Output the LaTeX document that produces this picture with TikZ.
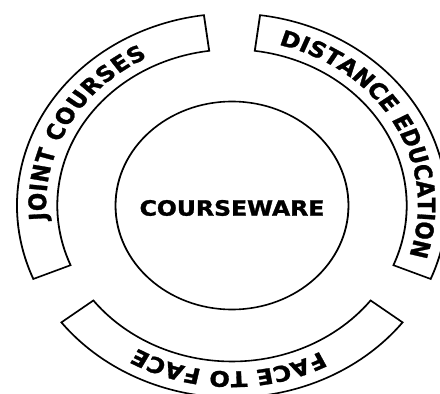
\documentclass[tikz,border=0pt]{standalone}
\usepackage{fontspec}
\setmainfont{DejaVu Sans}
\newfontfamily\hv{DejaVu Sans Bold}[FakeBold=1.3]
\usetikzlibrary{decorations.text}
\tikzset{
  band/.style={draw=black, line width=1.6pt, fill=white, line join=miter},
  ring/.style={draw=black, line width=1.6pt},
  arctext/.style={decorate, decoration={text along path, text align=fit to path,
    text={|\hv\fontsize{21.5}{25}\selectfont|#1}}},
}
\begin{document}
\begin{tikzpicture}
\useasboundingbox[fill=white] (-232pt,-188.5pt) rectangle (208pt,205.5pt);
\begin{scope}[transform canvas={xscale=1.12}]
  % central circle
  \node[ring, circle, minimum size=208pt, inner sep=0pt] (core) at (0pt,0pt) {};
  \node (cw) at (0pt,-2.5pt) {\hv\fontsize{21}{25}\selectfont COURSEWARE};
  % bands
  \draw[band] (97.5:156pt) -- (97.5:192pt) arc[start angle=97.5, end angle=202.5, radius=192pt]
     -- (202.5:156pt) arc[start angle=202.5, end angle=97.5, radius=156pt] -- cycle;
  \draw[band] (-22.5:156pt) -- (-22.5:192pt) arc[start angle=-22.5, end angle=82.5, radius=192pt]
     -- (82.5:156pt) arc[start angle=82.5, end angle=-22.5, radius=156pt] -- cycle;
  \draw[band] (217.5:156pt) -- (217.5:192pt) arc[start angle=217.5, end angle=322.5, radius=192pt]
     -- (322.5:156pt) arc[start angle=322.5, end angle=217.5, radius=156pt] -- cycle;
  % curved labels
  \path[arctext={JOINT COURSES}] (185:166pt) arc[start angle=185, end angle=117, radius=166pt];
  \path[arctext={DISTANCE EDUCATION}] (75.5:166pt) arc[start angle=75.5, end angle=-15.5, radius=166pt];
  \path[arctext={FACE TO FACE}] (298.5:166pt) arc[start angle=298.5, end angle=241.5, radius=166pt];
\end{scope}
\end{tikzpicture}
\end{document}
